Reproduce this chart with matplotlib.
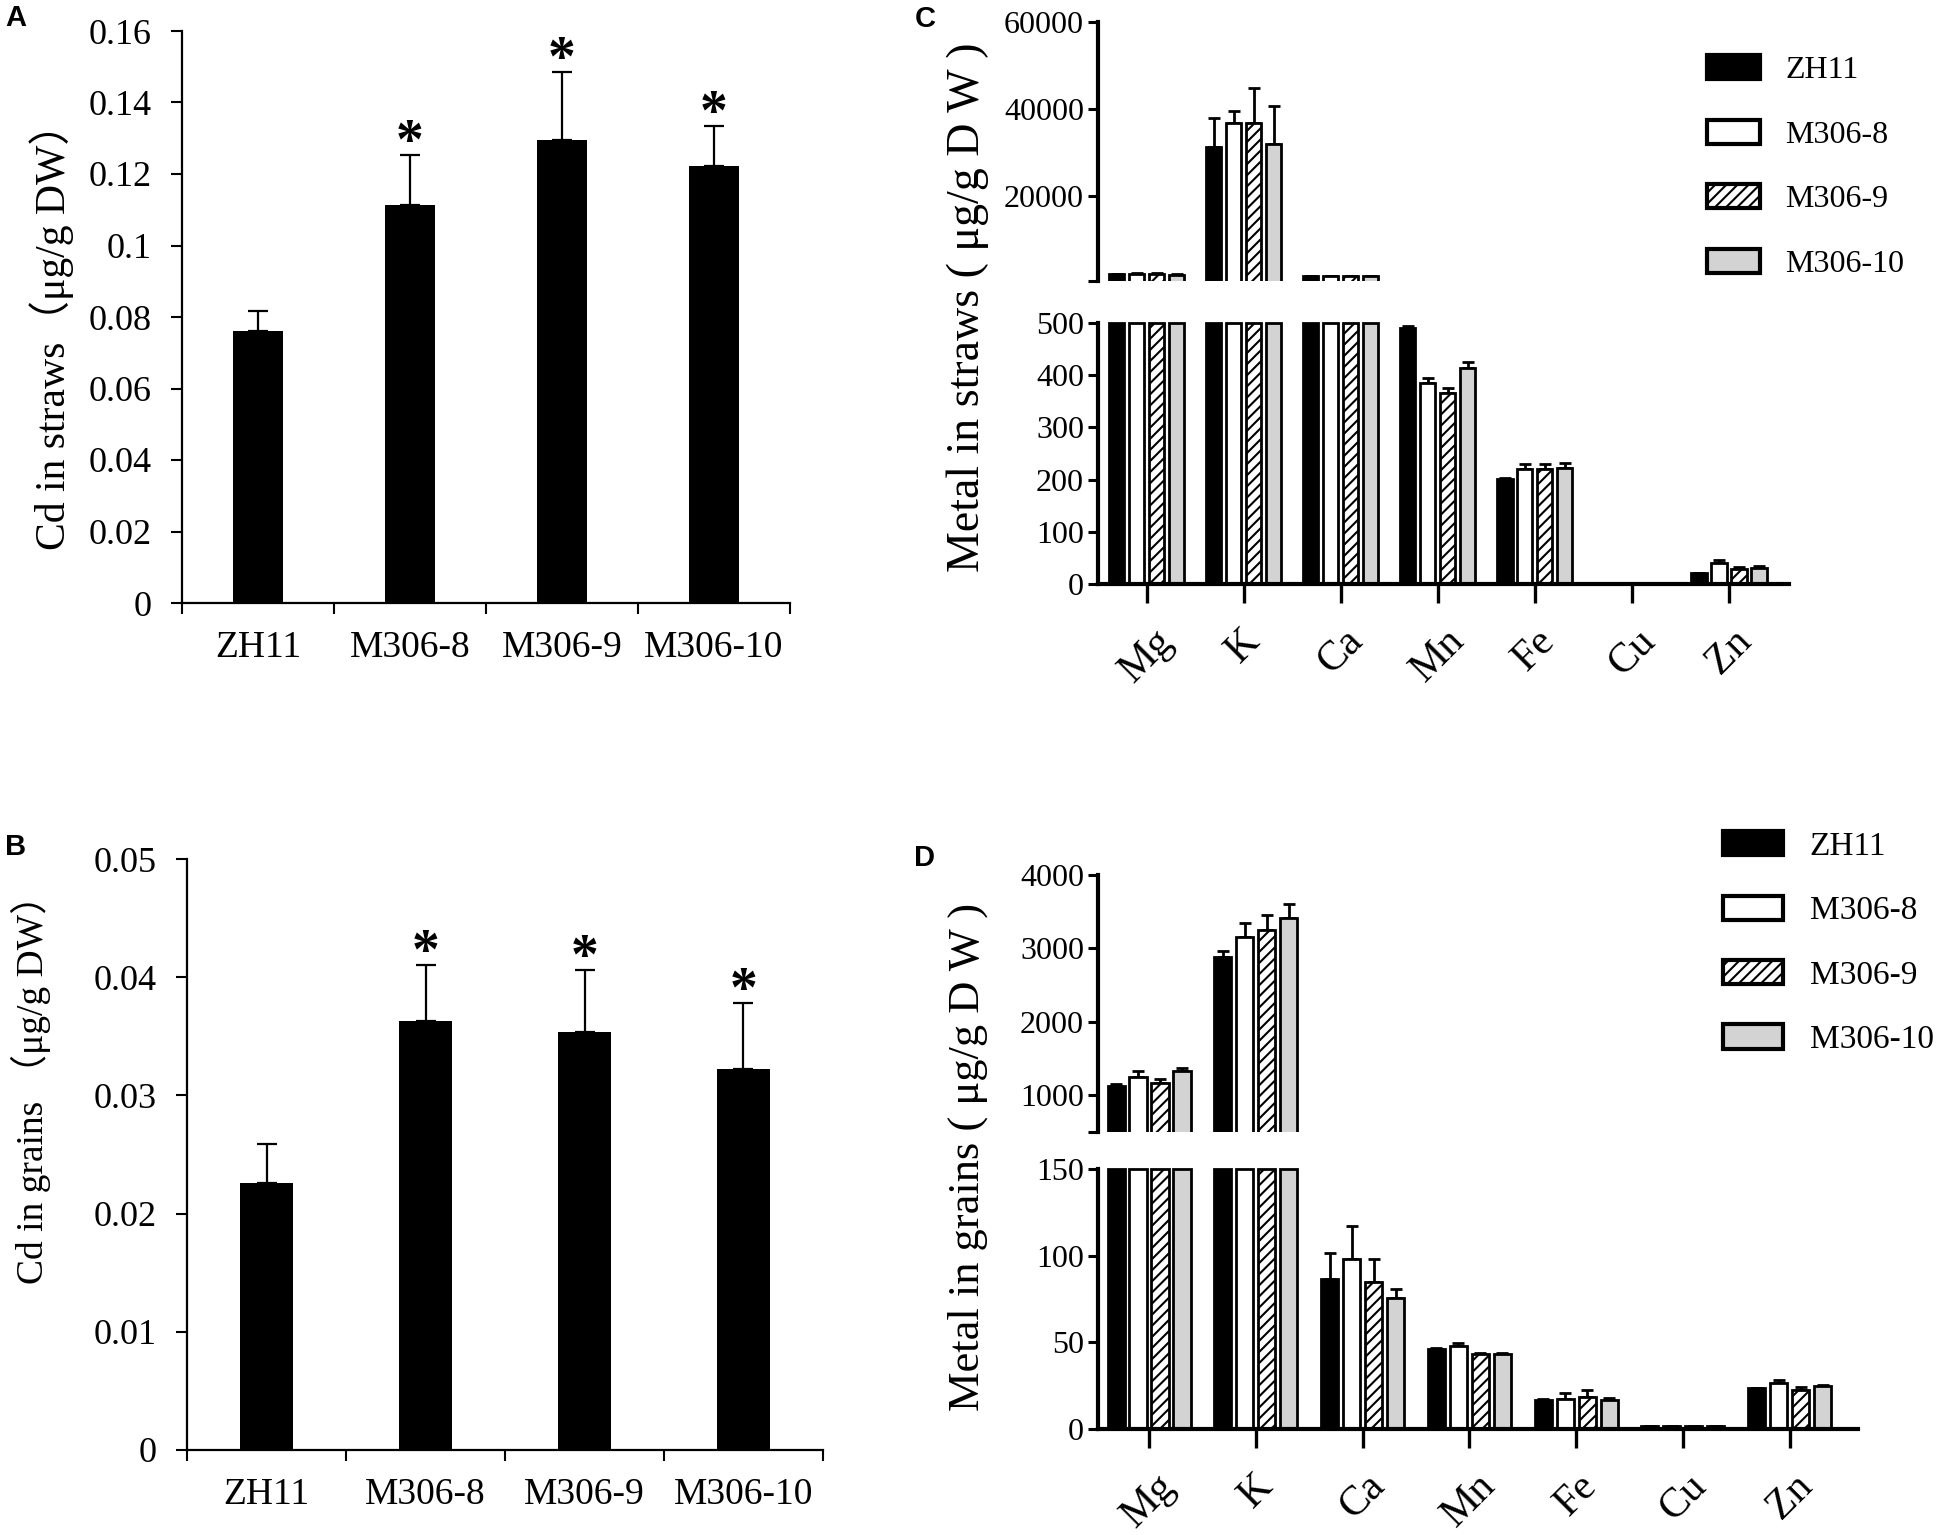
import numpy as np
import matplotlib
matplotlib.use('Agg')
import matplotlib.pyplot as plt
from matplotlib.patches import Patch

plt.rcParams['font.family'] = ['Liberation Serif', 'Noto Sans CJK SC', 'DejaVu Sans']
plt.rcParams['hatch.linewidth'] = 1.5
plt.rcParams['hatch.color'] = 'black'

# ---- data ----
genotypes = ['ZH11', 'M306-8', 'M306-9', 'M306-10']

cd_straw = [0.0762, 0.1114, 0.1295, 0.1223]
cd_straw_err = [0.0054, 0.0140, 0.0190, 0.0112]
cd_straw_sig = [False, True, True, True]
cd_straw_ticks = [0, 0.02, 0.04, 0.06, 0.08, 0.1, 0.12, 0.14, 0.16]
cd_straw_ticklabels = ['0', '0.02', '0.04', '0.06', '0.08', '0.1', '0.12', '0.14', '0.16']

cd_grain = [0.0226, 0.0363, 0.0354, 0.0322]
cd_grain_err = [0.0033, 0.0047, 0.0052, 0.0056]
cd_grain_sig = [False, True, True, True]
cd_grain_ticks = [0, 0.01, 0.02, 0.03, 0.04, 0.05]
cd_grain_ticklabels = ['0', '0.01', '0.02', '0.03', '0.04', '0.05']

elements = ['Mg', 'K', 'Ca', 'Mn', 'Fe', 'Cu', 'Zn']

# metal in straws, one list per genotype (order of elements)
straw_zh11 = [2100, 31200, 1600, 490, 201, 1.5, 21]
straw_m8 = [2200, 36700, 1600, 386, 220, 1.5, 40]
straw_m9 = [2200, 36900, 1600, 365, 220, 1.5, 29]
straw_m10 = [1900, 31900, 1600, 414, 222, 1.5, 31]
straw_zh11_err = [100, 6800, 80, 4, 3, 0.2, 1]
straw_m8_err = [120, 2900, 80, 9, 9, 0.2, 6]
straw_m9_err = [120, 7900, 80, 11, 10, 0.2, 3]
straw_m10_err = [100, 8700, 80, 12, 10, 0.2, 3]

# metal in grains
grain_zh11 = [1132, 2887, 86.7, 46, 17, 1.5, 23.4]
grain_m8 = [1250, 3162, 98.3, 48, 17.5, 1.5, 26.8]
grain_m9 = [1171, 3247, 84.7, 43, 18.4, 1.5, 22.6]
grain_m10 = [1328, 3411, 75.4, 43, 17, 1.5, 24.6]
grain_zh11_err = [15, 78, 15, 0.6, 0.5, 0.1, 0.5]
grain_m8_err = [78, 183, 18.7, 1.4, 3.5, 0.1, 1.2]
grain_m9_err = [46, 209, 13.3, 1.0, 4.2, 0.1, 1.4]
grain_m10_err = [39, 196, 5.6, 0.8, 1.0, 0.1, 0.5]

straw_low_ticks = [0, 100, 200, 300, 400, 500]
straw_high_ticks = [500, 20000, 40000, 60000]
straw_high_ticklabels = ['', '20000', '40000', '60000']
grain_low_ticks = [0, 50, 100, 150]
grain_high_ticks = [500, 1000, 2000, 3000, 4000]
grain_high_ticklabels = ['', '1000', '2000', '3000', '4000']

# ---- styles ----
faces = ['black', 'white', 'white', '#d3d3d3']
hatches = [None, None, '///', None]

W, H = 1950, 1535
fig = plt.figure(figsize=(W / 100, H / 100), dpi=100)


def rect(left, right, top, bottom):
    return [left / W, 1 - bottom / H, (right - left) / W, (bottom - top) / H]


def cd_panel(box, vals, errs, sig, ticks, ticklabels, label_x, label_y, label, label_size):
    ax = fig.add_axes(box)
    x = np.arange(len(genotypes))
    ax.bar(x, vals, width=0.33, color='black', zorder=2)
    ax.errorbar(x, vals, yerr=[np.zeros(len(vals)), errs], fmt='none',
                ecolor='black', elinewidth=1.6, capsize=7, capthick=1.6, zorder=3)
    for xi, v, e, s in zip(x, vals, errs, sig):
        if s:
            ax.annotate('*', xy=(xi, v + e), xytext=(0, 8), textcoords='offset points',
                        ha='center', va='center', fontsize=40, fontweight='bold')
    ax.set_xlim(-0.5, len(genotypes) - 0.5)
    ax.set_ylim(ticks[0], ticks[-1])
    ax.set_yticks(ticks)
    ax.set_yticklabels(ticklabels)
    ax.set_xticks(x)
    ax.set_xticklabels(genotypes)
    ax.set_xticks(np.arange(len(genotypes) + 1) - 0.5, minor=True)
    ax.tick_params(axis='x', which='major', length=0, labelsize=27, pad=20)
    ax.tick_params(axis='x', which='minor', length=8, width=1.5, direction='out')
    ax.tick_params(axis='y', length=8, width=1.5, direction='out', labelsize=26, pad=14)
    for side in ['top', 'right']:
        ax.spines[side].set_visible(False)
    for side in ['left', 'bottom']:
        ax.spines[side].set_linewidth(1.6)
    fig.text(label_x / W, 1 - label_y / H, label, rotation=90, ha='center', va='center',
             fontsize=label_size)
    return ax


def metal_panel(box_hi, box_lo, series, errors, lo_lim, hi_lim, lo_ticks, hi_ticks,
                hi_ticklabels, xlim, label_x, label_y, label, label_size):
    ax_hi = fig.add_axes(box_hi)
    ax_lo = fig.add_axes(box_lo)
    x = np.arange(len(elements))
    pitch, width = 0.206, 0.16
    for i, (vals, errs) in enumerate(zip(series, errors)):
        vals = np.array(vals, dtype=float)
        errs = np.array(errs, dtype=float)
        pos = x + (i - 1.5) * pitch
        big = vals > hi_lim[0]
        ax_hi.bar(pos[big], vals[big], width=width, color=faces[i], edgecolor='black',
                  linewidth=2.0, hatch=hatches[i], zorder=2)
        ax_hi.errorbar(pos[big], vals[big], yerr=[np.zeros(big.sum()), errs[big]],
                       fmt='none', ecolor='black', elinewidth=2.0, capsize=4.5,
                       capthick=2.0, zorder=1)
        ax_lo.bar(pos, np.minimum(vals, lo_lim), width=width, color=faces[i],
                  edgecolor='black', linewidth=2.0, hatch=hatches[i], zorder=2,
                  clip_on=False)
        ax_lo.errorbar(pos, vals, yerr=[np.zeros(len(vals)), errs], fmt='none',
                       ecolor='black', elinewidth=2.0, capsize=4.5, capthick=2.0,
                       zorder=1)
    ax_lo.set_ylim(0, lo_lim)
    ax_hi.set_ylim(hi_lim[0], hi_lim[1])
    for ax in (ax_hi, ax_lo):
        ax.set_xlim(*xlim)
        for side in ['top', 'right']:
            ax.spines[side].set_visible(False)
        ax.spines['left'].set_linewidth(3)
        ax.tick_params(axis='y', length=7, width=2.2, direction='out', labelsize=23, pad=3)
    ax_hi.spines['bottom'].set_visible(False)
    ax_hi.set_xticks([])
    ax_hi.set_yticks(hi_ticks)
    ax_hi.set_yticklabels(hi_ticklabels)
    ax_lo.set_yticks(lo_ticks)
    ax_lo.spines['bottom'].set_linewidth(3)
    ax_lo.set_xticks(x)
    ax_lo.set_xticklabels(elements, rotation=45, ha='center', va='top')
    ax_lo.tick_params(axis='x', length=14, width=2.4, direction='out', labelsize=30, pad=13)
    fig.text(label_x / W, 1 - label_y / H, label, rotation=90, ha='center', va='center',
             fontsize=label_size)
    return ax_hi, ax_lo


ax_a = cd_panel(rect(182, 790, 31, 603), cd_straw, cd_straw_err, cd_straw_sig,
                cd_straw_ticks, cd_straw_ticklabels, 52, 327, 'Cd in straws（μg/g DW）', 30)
ax_b = cd_panel(rect(187, 823, 859, 1450), cd_grain, cd_grain_err, cd_grain_sig,
                cd_grain_ticks, cd_grain_ticklabels, 31, 1080, 'Cd in grains （μg/g DW）', 27)

c_hi, c_lo = metal_panel(rect(1098, 1789, 22, 281), rect(1098, 1789, 323, 584),
                         [straw_zh11, straw_m8, straw_m9, straw_m10],
                         [straw_zh11_err, straw_m8_err, straw_m9_err, straw_m10_err],
                         500, (500, 60000), straw_low_ticks, straw_high_ticks,
                         straw_high_ticklabels, (-0.5, 6.62), 968, 307,
                         'Metal in straws ( μg/g D W )', 33)
d_hi, d_lo = metal_panel(rect(1098, 1858, 875, 1132), rect(1098, 1858, 1169, 1429),
                         [grain_zh11, grain_m8, grain_m9, grain_m10],
                         [grain_zh11_err, grain_m8_err, grain_m9_err, grain_m10_err],
                         150, (500, 4000), grain_low_ticks, grain_high_ticks,
                         grain_high_ticklabels, (-0.478, 6.64), 968, 1157,
                         'Metal in grains ( μg/g D W )', 32)

handles = [Patch(facecolor=faces[i], edgecolor='black', linewidth=3, hatch=hatches[i])
           for i in range(len(genotypes))]
fig.legend(handles, genotypes, loc='upper left', bbox_to_anchor=(1707 / W, 1 - 55 / H),
           frameon=False, fontsize=23, handlelength=1.66, handleheight=0.78,
           handletextpad=0.78, labelspacing=1.08, borderpad=0, borderaxespad=0)
fig.legend(handles, genotypes, loc='upper left', bbox_to_anchor=(1723 / W, 1 - 831 / H),
           frameon=False, fontsize=24, handlelength=1.8, handleheight=0.75,
           handletextpad=0.8, labelspacing=1.01, borderpad=0, borderaxespad=0)

for letter, (lx, ly) in zip('ABCD', [(16, 18), (16, 847), (925, 19), (925, 858)]):
    fig.text(lx / W, 1 - ly / H, letter, ha='center', va='center', fontsize=21,
             fontweight='bold', family='Liberation Sans')

fig.savefig('out.png', dpi=100)
